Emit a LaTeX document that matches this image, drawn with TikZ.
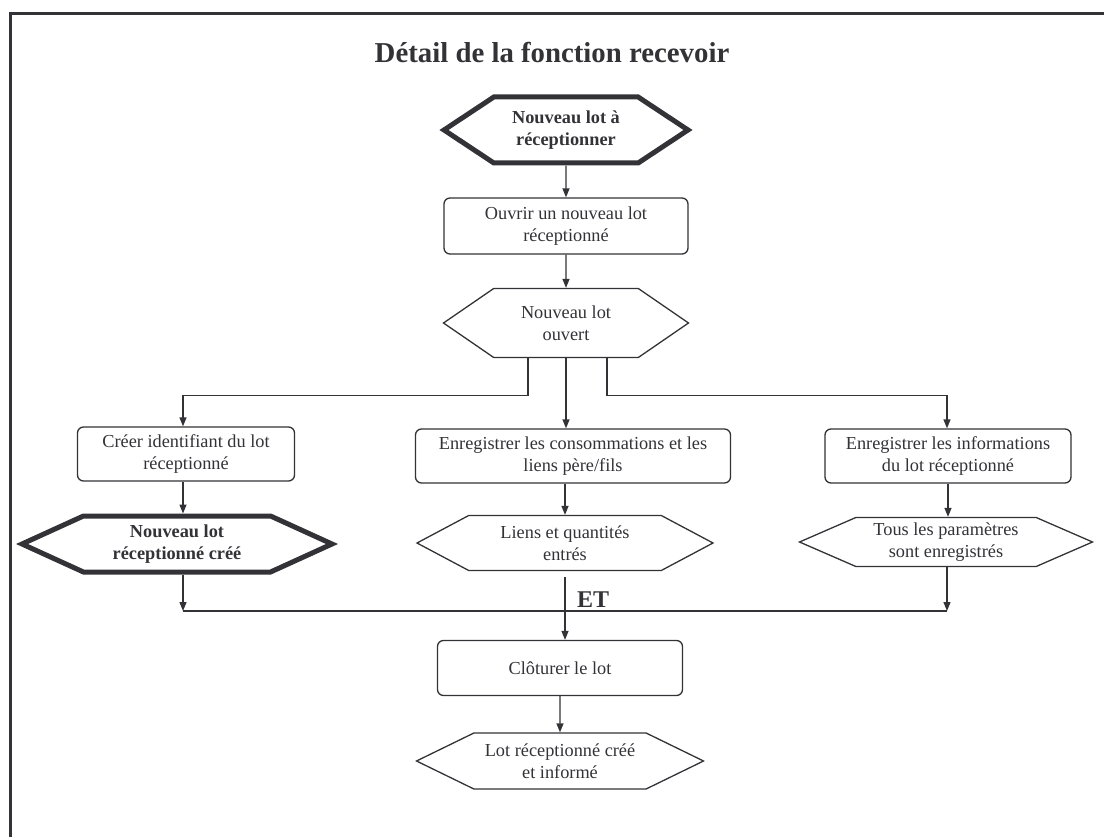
\documentclass[tikz,border=0pt]{standalone}
\usepackage{fontspec}
\setmainfont{Liberation Serif}
\usetikzlibrary{shapes.symbols, arrows.meta}
\definecolor{ink}{RGB}{50,50,55}

\begin{document}
\begin{tikzpicture}[x=1pt, y=-1pt, >={Triangle[length=9pt, width=7pt]}, auto]

    \tikzstyle{process} = [rectangle, rounded corners=6pt, draw=ink, line width=1.3pt, text=ink, align=center, inner sep=0pt, font=\fontsize{18.3}{22}\selectfont]
    \tikzstyle{event} = [signal, signal to=west and east, draw=ink, line width=1.3pt, text=ink, align=center, inner sep=0pt, font=\fontsize{18.3}{22}\selectfont]
    \tikzstyle{keyevent} = [event, line width=5pt, font=\fontsize{18.3}{22}\bfseries\selectfont]
    \tikzstyle{titletext} = [anchor=base, text=ink, font=\fontsize{28.8}{34}\bfseries\selectfont]
    \tikzstyle{andlabel} = [anchor=base west, inner sep=0pt, text=ink, font=\fontsize{24}{28}\bfseries\selectfont]
    \tikzstyle{arrow} = [draw=ink, line width=1.3pt, ->]

    \useasboundingbox (0,0) rectangle (1104,837);
    \draw [ink, line width=3pt] (10,837) -- (10,14) -- (1104,14);

    % Nodes
    \node (title) [titletext] at (552,63) {Détail de la fonction recevoir};
    \node (start) [keyevent, minimum width=244pt, minimum height=66pt, signal pointer angle=67] at (566,130) {Nouveau lot à\\réceptionner};
    \node (open) [process, minimum width=244pt, minimum height=56pt] at (566,226) {Ouvrir un nouveau lot\\réceptionné};
    \node (opened) [event, minimum width=245pt, minimum height=69pt, signal pointer angle=69] at (566,323) {Nouveau lot\\ouvert};
    \node (identify) [process, minimum width=217pt, minimum height=54pt] at (186,454) {Créer identifiant du lot\\réceptionné};
    \node (record) [process, minimum width=315pt, minimum height=54pt] at (573,456) {Enregistrer les consommations et les\\liens père/fils};
    \node (inform) [process, minimum width=246pt, minimum height=54pt] at (948,456) {Enregistrer les informations\\du lot réceptionné};
    \node (created) [keyevent, minimum width=310pt, minimum height=56pt, signal pointer angle=49] at (177,544) {Nouveau lot\\réceptionné créé};
    \node (linked) [event, minimum width=296pt, minimum height=55pt, signal pointer angle=56] at (565,543) {Liens et quantités\\entrés};
    \node (saved) [event, minimum width=293pt, minimum height=49pt, signal pointer angle=47] at (946,542) {Tous les paramètres\\sont enregistrés};
    \node (close) [process, minimum width=245pt, minimum height=55pt] at (560,668) {Clôturer le lot};
    \node (done) [event, minimum width=287pt, minimum height=56pt, signal pointer angle=52] at (560,761) {Lot réceptionné créé\\et informé};
    \node (et) [andlabel] at (577,607) {ET};
    \coordinate (joinL) at (183,611);
    \coordinate (joinR) at (947,611);

    % Arrows
    \draw [arrow] (start) -- (open);
    \draw [arrow] (open) -- (opened);
    \draw [arrow] ([xshift=-38pt]opened.south) -- ++(0,37) -| ([xshift=-3pt]identify.north);
    \draw [arrow] (opened.south) -- (opened.south |- record.north);
    \draw [arrow] ([xshift=41pt]opened.south) -- ++(0,37) -| ([xshift=-1pt]inform.north);
    \draw [arrow] ([xshift=-3pt]identify.south) -- ([xshift=-3pt]identify.south |- created.north);
    \draw [arrow] (linked.north |- record.south) -- (linked.north);
    \draw [arrow] (inform.south) -- (inform.south |- saved.north);
    \draw [ink, line width=1.3pt] (joinL) -- (joinR);
    \draw [arrow] (joinL |- created.south) -- (joinL);
    \draw [arrow] (joinR |- saved.south) -- (joinR);
    \draw [arrow] ([yshift=-6pt]linked.south) -- (linked.south |- close.north);
    \draw [arrow] (close) -- (done);

\end{tikzpicture}
\end{document}
